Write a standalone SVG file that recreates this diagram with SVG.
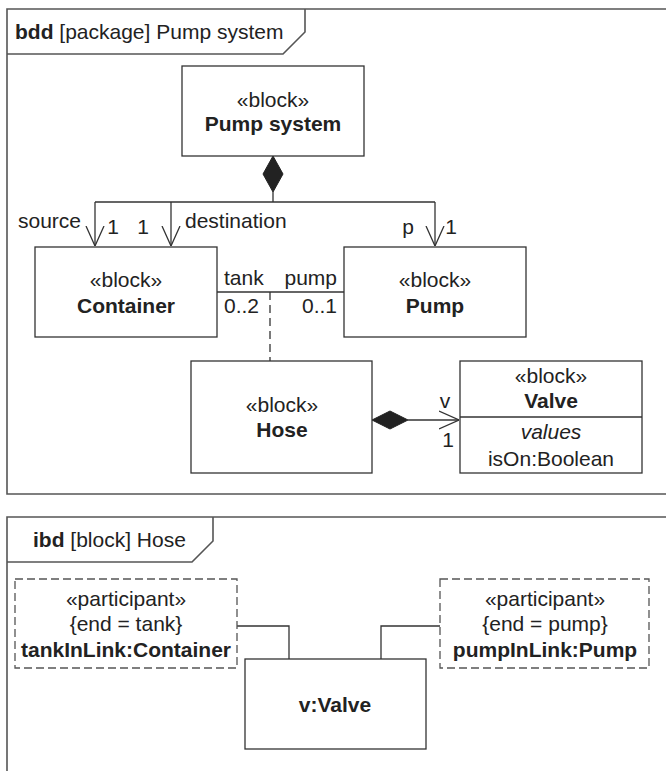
<svg xmlns="http://www.w3.org/2000/svg" width="666" height="771" viewBox="0 0 666 771">
<style>
text{font-family:"Liberation Sans",Arial,sans-serif;font-size:21px;fill:#222}
.b{font-weight:bold}
.i{font-style:italic}
.m{text-anchor:middle}
.box{fill:#fff;stroke:#333;stroke-width:1.3}
.dash{fill:#fff;stroke:#555;stroke-width:1.3;stroke-dasharray:8 4}
.frame{fill:none;stroke:#555;stroke-width:1.6}
.ln{fill:none;stroke:#333;stroke-width:1.3}
</style>
<defs>
<marker id="open" viewBox="0 0 20 28" refX="20" refY="14" markerWidth="20" markerHeight="28" markerUnits="userSpaceOnUse" orient="auto">
<path d="M0,5 L20,14 L0,23" fill="none" stroke="#333" stroke-width="1.3"/>
</marker>
</defs>
<g id="bdd-frame">
<path class="frame" d="M670,9 H7 V494 H670"/>
<path class="frame" d="M7,54 H283 L305,32 V9"/>
<text x="15" y="39"><tspan class="b">bdd</tspan> [package] Pump system</text>
</g>
<g id="connectors">
<path class="ln" d="M273,192 V202 M95,202 H435" />
<path class="ln" d="M95,202 V246" marker-end="url(#open)"/>
<path class="ln" d="M171,202 V246" marker-end="url(#open)"/>
<path class="ln" d="M435,202 V246" marker-end="url(#open)"/>
<path d="M273,156 L283,174 L273,192 L263,174 Z" fill="#222" stroke="#222" stroke-width="1"/>
<path class="ln" d="M217,292 H344"/>
<path class="ln" d="M270,292 V361" stroke-dasharray="8 5"/>
<path class="ln" d="M408,420 H459" marker-end="url(#open)"/>
<path d="M372,420 L390,411 L408,420 L390,429 Z" fill="#222" stroke="#222" stroke-width="1"/>
<path class="ln" d="M237,626 H289 V659"/>
<path class="ln" d="M440,626 H381 V659"/>
</g>
<g id="labels">
<text x="18" y="228">source</text>
<text x="113" y="234" class="m">1</text>
<text x="143" y="234" class="m">1</text>
<text x="185" y="228">destination</text>
<text x="408" y="234" class="m">p</text>
<text x="451" y="234" class="m">1</text>
<text x="224" y="285">tank</text>
<text x="337" y="285" text-anchor="end">pump</text>
<text x="224" y="313">0..2</text>
<text x="337" y="313" text-anchor="end">0..1</text>
<text x="445" y="408" class="m">v</text>
<text x="448" y="447" class="m">1</text>
</g>
<g id="pump-system">
<rect class="box" x="182" y="66" width="182" height="90"/>
<text x="273" y="107" class="m">«block»</text>
<text x="273" y="131" class="m b">Pump system</text>
</g>
<g id="container">
<rect class="box" x="35" y="247" width="182" height="90"/>
<text x="126" y="287" class="m">«block»</text>
<text x="126" y="313" class="m b">Container</text>
</g>
<g id="pump">
<rect class="box" x="344" y="247" width="182" height="90"/>
<text x="435" y="287" class="m">«block»</text>
<text x="435" y="313" class="m b">Pump</text>
</g>
<g id="hose">
<rect class="box" x="191" y="361" width="181" height="112"/>
<text x="282" y="412" class="m">«block»</text>
<text x="282" y="437" class="m b">Hose</text>
</g>
<g id="valve">
<rect class="box" x="460" y="361" width="182" height="112"/>
<line class="ln" x1="460" y1="417" x2="642" y2="417"/>
<text x="551" y="383" class="m">«block»</text>
<text x="551" y="408" class="m b">Valve</text>
<text x="551" y="439" class="m i">values</text>
<text x="551" y="466" class="m">isOn:Boolean</text>
</g>
<g id="ibd-frame">
<path class="frame" d="M670,517 H7 V775"/>
<path class="frame" d="M7,562 H192 L213,541 V517"/>
<text x="33" y="547"><tspan class="b">ibd</tspan> [block] Hose</text>
</g>
<g id="tankInLink">
<rect class="dash" x="15" y="579" width="222" height="89"/>
<text x="126" y="606" class="m">«participant»</text>
<text x="126" y="631" class="m">{end = tank}</text>
<text x="126" y="657" class="m b">tankInLink:Container</text>
</g>
<g id="pumpInLink">
<rect class="dash" x="440" y="579" width="209" height="89"/>
<text x="545" y="606" class="m">«participant»</text>
<text x="545" y="631" class="m">{end = pump}</text>
<text x="545" y="657" class="m b">pumpInLink:Pump</text>
</g>
<g id="v-valve">
<rect class="box" x="245" y="659" width="181" height="90"/>
<text x="335" y="712" class="m b">v:Valve</text>
</g>
</svg>
